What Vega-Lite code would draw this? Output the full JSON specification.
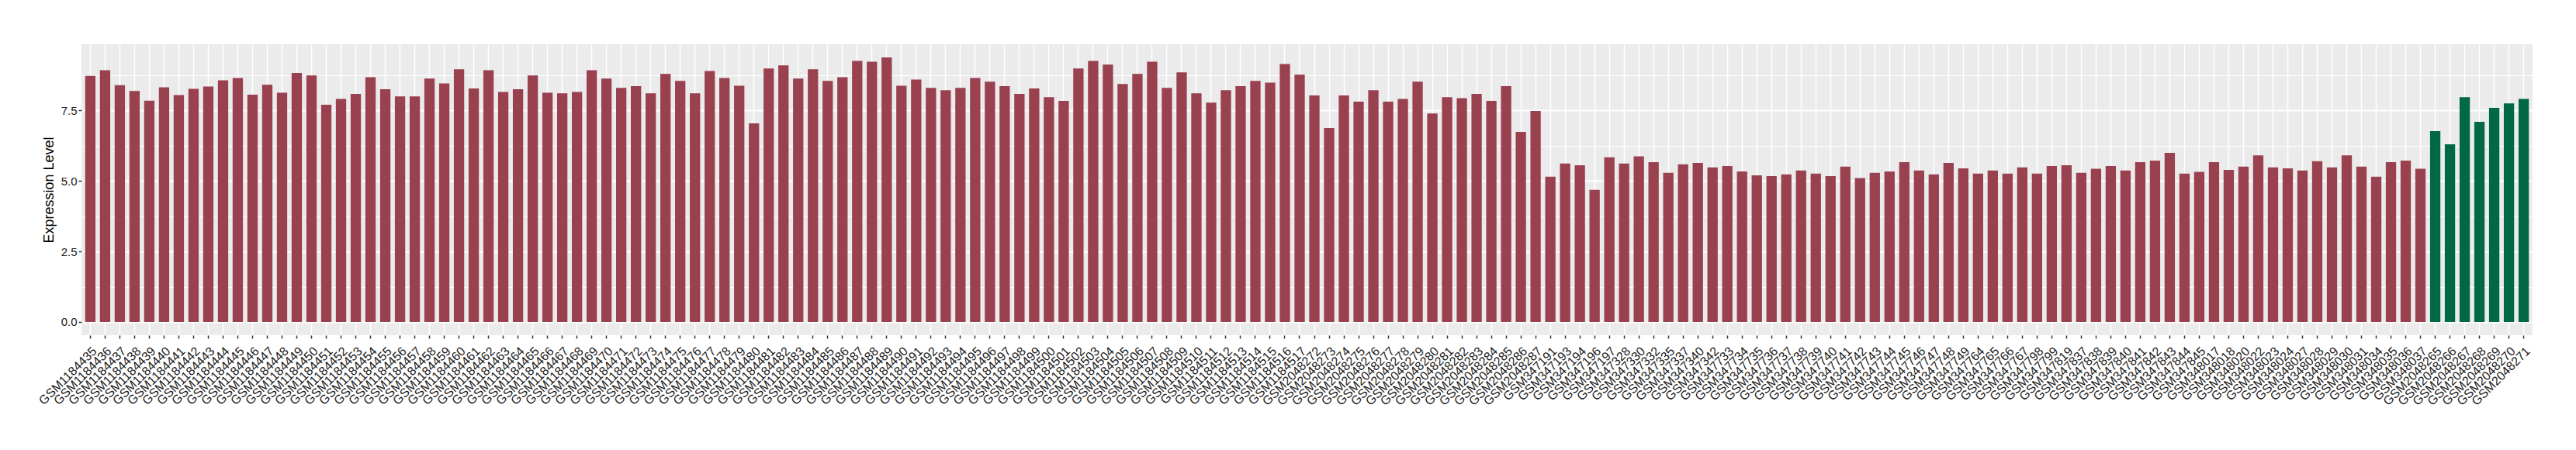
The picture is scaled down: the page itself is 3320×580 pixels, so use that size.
{
  "$schema": "https://vega.github.io/schema/vega-lite/v6.json",
  "autosize": {"type": "none"},
  "width": 3159,
  "height": 375,
  "padding": {"left": 105, "top": 57, "right": 56, "bottom": 148},
  "background": "white",
  "config": {"view": {"fill": "#EBEBEB", "stroke": null}, "font": "Liberation Sans"},
  "data": {"values": [
    {"sample": "GSM1184435", "value": 8.73, "group": "a"},
    {"sample": "GSM1184436", "value": 8.93, "group": "a"},
    {"sample": "GSM1184437", "value": 8.40, "group": "a"},
    {"sample": "GSM1184438", "value": 8.19, "group": "a"},
    {"sample": "GSM1184439", "value": 7.85, "group": "a"},
    {"sample": "GSM1184440", "value": 8.32, "group": "a"},
    {"sample": "GSM1184441", "value": 8.05, "group": "a"},
    {"sample": "GSM1184442", "value": 8.27, "group": "a"},
    {"sample": "GSM1184443", "value": 8.35, "group": "a"},
    {"sample": "GSM1184444", "value": 8.57, "group": "a"},
    {"sample": "GSM1184445", "value": 8.65, "group": "a"},
    {"sample": "GSM1184446", "value": 8.06, "group": "a"},
    {"sample": "GSM1184447", "value": 8.41, "group": "a"},
    {"sample": "GSM1184448", "value": 8.13, "group": "a"},
    {"sample": "GSM1184449", "value": 8.83, "group": "a"},
    {"sample": "GSM1184450", "value": 8.74, "group": "a"},
    {"sample": "GSM1184451", "value": 7.70, "group": "a"},
    {"sample": "GSM1184452", "value": 7.91, "group": "a"},
    {"sample": "GSM1184453", "value": 8.09, "group": "a"},
    {"sample": "GSM1184454", "value": 8.68, "group": "a"},
    {"sample": "GSM1184455", "value": 8.25, "group": "a"},
    {"sample": "GSM1184456", "value": 8.00, "group": "a"},
    {"sample": "GSM1184457", "value": 8.00, "group": "a"},
    {"sample": "GSM1184458", "value": 8.63, "group": "a"},
    {"sample": "GSM1184459", "value": 8.46, "group": "a"},
    {"sample": "GSM1184460", "value": 8.96, "group": "a"},
    {"sample": "GSM1184461", "value": 8.28, "group": "a"},
    {"sample": "GSM1184462", "value": 8.93, "group": "a"},
    {"sample": "GSM1184463", "value": 8.16, "group": "a"},
    {"sample": "GSM1184464", "value": 8.25, "group": "a"},
    {"sample": "GSM1184465", "value": 8.74, "group": "a"},
    {"sample": "GSM1184466", "value": 8.13, "group": "a"},
    {"sample": "GSM1184467", "value": 8.11, "group": "a"},
    {"sample": "GSM1184468", "value": 8.16, "group": "a"},
    {"sample": "GSM1184469", "value": 8.93, "group": "a"},
    {"sample": "GSM1184470", "value": 8.63, "group": "a"},
    {"sample": "GSM1184471", "value": 8.30, "group": "a"},
    {"sample": "GSM1184472", "value": 8.36, "group": "a"},
    {"sample": "GSM1184473", "value": 8.11, "group": "a"},
    {"sample": "GSM1184474", "value": 8.80, "group": "a"},
    {"sample": "GSM1184475", "value": 8.55, "group": "a"},
    {"sample": "GSM1184476", "value": 8.11, "group": "a"},
    {"sample": "GSM1184477", "value": 8.90, "group": "a"},
    {"sample": "GSM1184478", "value": 8.65, "group": "a"},
    {"sample": "GSM1184479", "value": 8.38, "group": "a"},
    {"sample": "GSM1184480", "value": 7.04, "group": "a"},
    {"sample": "GSM1184481", "value": 8.99, "group": "a"},
    {"sample": "GSM1184482", "value": 9.10, "group": "a"},
    {"sample": "GSM1184483", "value": 8.63, "group": "a"},
    {"sample": "GSM1184484", "value": 8.96, "group": "a"},
    {"sample": "GSM1184485", "value": 8.55, "group": "a"},
    {"sample": "GSM1184486", "value": 8.68, "group": "a"},
    {"sample": "GSM1184487", "value": 9.26, "group": "a"},
    {"sample": "GSM1184488", "value": 9.23, "group": "a"},
    {"sample": "GSM1184489", "value": 9.38, "group": "a"},
    {"sample": "GSM1184490", "value": 8.38, "group": "a"},
    {"sample": "GSM1184491", "value": 8.60, "group": "a"},
    {"sample": "GSM1184492", "value": 8.30, "group": "a"},
    {"sample": "GSM1184493", "value": 8.22, "group": "a"},
    {"sample": "GSM1184494", "value": 8.30, "group": "a"},
    {"sample": "GSM1184495", "value": 8.65, "group": "a"},
    {"sample": "GSM1184496", "value": 8.52, "group": "a"},
    {"sample": "GSM1184497", "value": 8.36, "group": "a"},
    {"sample": "GSM1184498", "value": 8.09, "group": "a"},
    {"sample": "GSM1184499", "value": 8.28, "group": "a"},
    {"sample": "GSM1184500", "value": 7.97, "group": "a"},
    {"sample": "GSM1184501", "value": 7.84, "group": "a"},
    {"sample": "GSM1184502", "value": 8.99, "group": "a"},
    {"sample": "GSM1184503", "value": 9.26, "group": "a"},
    {"sample": "GSM1184504", "value": 9.13, "group": "a"},
    {"sample": "GSM1184505", "value": 8.44, "group": "a"},
    {"sample": "GSM1184506", "value": 8.80, "group": "a"},
    {"sample": "GSM1184507", "value": 9.23, "group": "a"},
    {"sample": "GSM1184508", "value": 8.30, "group": "a"},
    {"sample": "GSM1184509", "value": 8.85, "group": "a"},
    {"sample": "GSM1184510", "value": 8.11, "group": "a"},
    {"sample": "GSM1184511", "value": 7.78, "group": "a"},
    {"sample": "GSM1184512", "value": 8.22, "group": "a"},
    {"sample": "GSM1184513", "value": 8.36, "group": "a"},
    {"sample": "GSM1184514", "value": 8.55, "group": "a"},
    {"sample": "GSM1184515", "value": 8.49, "group": "a"},
    {"sample": "GSM1184516", "value": 9.15, "group": "a"},
    {"sample": "GSM1184517", "value": 8.77, "group": "a"},
    {"sample": "GSM2048272", "value": 8.03, "group": "a"},
    {"sample": "GSM2048273", "value": 6.88, "group": "a"},
    {"sample": "GSM2048274", "value": 8.03, "group": "a"},
    {"sample": "GSM2048275", "value": 7.81, "group": "a"},
    {"sample": "GSM2048276", "value": 8.22, "group": "a"},
    {"sample": "GSM2048277", "value": 7.81, "group": "a"},
    {"sample": "GSM2048278", "value": 7.91, "group": "a"},
    {"sample": "GSM2048279", "value": 8.52, "group": "a"},
    {"sample": "GSM2048280", "value": 7.39, "group": "a"},
    {"sample": "GSM2048281", "value": 7.97, "group": "a"},
    {"sample": "GSM2048282", "value": 7.94, "group": "a"},
    {"sample": "GSM2048283", "value": 8.09, "group": "a"},
    {"sample": "GSM2048284", "value": 7.84, "group": "a"},
    {"sample": "GSM2048285", "value": 8.36, "group": "a"},
    {"sample": "GSM2048286", "value": 6.74, "group": "a"},
    {"sample": "GSM2048287", "value": 7.48, "group": "a"},
    {"sample": "GSM347191", "value": 5.15, "group": "a"},
    {"sample": "GSM347193", "value": 5.62, "group": "a"},
    {"sample": "GSM347194", "value": 5.56, "group": "a"},
    {"sample": "GSM347196", "value": 4.68, "group": "a"},
    {"sample": "GSM347197", "value": 5.84, "group": "a"},
    {"sample": "GSM347328", "value": 5.62, "group": "a"},
    {"sample": "GSM347330", "value": 5.87, "group": "a"},
    {"sample": "GSM347332", "value": 5.67, "group": "a"},
    {"sample": "GSM347335", "value": 5.29, "group": "a"},
    {"sample": "GSM347337", "value": 5.59, "group": "a"},
    {"sample": "GSM347340", "value": 5.64, "group": "a"},
    {"sample": "GSM347342", "value": 5.48, "group": "a"},
    {"sample": "GSM347733", "value": 5.53, "group": "a"},
    {"sample": "GSM347734", "value": 5.34, "group": "a"},
    {"sample": "GSM347735", "value": 5.20, "group": "a"},
    {"sample": "GSM347736", "value": 5.17, "group": "a"},
    {"sample": "GSM347737", "value": 5.23, "group": "a"},
    {"sample": "GSM347738", "value": 5.37, "group": "a"},
    {"sample": "GSM347739", "value": 5.26, "group": "a"},
    {"sample": "GSM347740", "value": 5.17, "group": "a"},
    {"sample": "GSM347741", "value": 5.51, "group": "a"},
    {"sample": "GSM347742", "value": 5.10, "group": "a"},
    {"sample": "GSM347743", "value": 5.29, "group": "a"},
    {"sample": "GSM347744", "value": 5.34, "group": "a"},
    {"sample": "GSM347745", "value": 5.67, "group": "a"},
    {"sample": "GSM347746", "value": 5.37, "group": "a"},
    {"sample": "GSM347747", "value": 5.23, "group": "a"},
    {"sample": "GSM347748", "value": 5.64, "group": "a"},
    {"sample": "GSM347749", "value": 5.45, "group": "a"},
    {"sample": "GSM347764", "value": 5.26, "group": "a"},
    {"sample": "GSM347765", "value": 5.37, "group": "a"},
    {"sample": "GSM347766", "value": 5.26, "group": "a"},
    {"sample": "GSM347767", "value": 5.48, "group": "a"},
    {"sample": "GSM347798", "value": 5.26, "group": "a"},
    {"sample": "GSM347799", "value": 5.53, "group": "a"},
    {"sample": "GSM347819", "value": 5.56, "group": "a"},
    {"sample": "GSM347837", "value": 5.29, "group": "a"},
    {"sample": "GSM347838", "value": 5.43, "group": "a"},
    {"sample": "GSM347839", "value": 5.53, "group": "a"},
    {"sample": "GSM347840", "value": 5.37, "group": "a"},
    {"sample": "GSM347841", "value": 5.67, "group": "a"},
    {"sample": "GSM347842", "value": 5.72, "group": "a"},
    {"sample": "GSM347843", "value": 6.00, "group": "a"},
    {"sample": "GSM347844", "value": 5.26, "group": "a"},
    {"sample": "GSM347845", "value": 5.32, "group": "a"},
    {"sample": "GSM348017", "value": 5.67, "group": "a"},
    {"sample": "GSM348018", "value": 5.39, "group": "a"},
    {"sample": "GSM348020", "value": 5.51, "group": "a"},
    {"sample": "GSM348022", "value": 5.91, "group": "a"},
    {"sample": "GSM348023", "value": 5.48, "group": "a"},
    {"sample": "GSM348024", "value": 5.45, "group": "a"},
    {"sample": "GSM348027", "value": 5.37, "group": "a"},
    {"sample": "GSM348028", "value": 5.70, "group": "a"},
    {"sample": "GSM348029", "value": 5.48, "group": "a"},
    {"sample": "GSM348030", "value": 5.91, "group": "a"},
    {"sample": "GSM348031", "value": 5.51, "group": "a"},
    {"sample": "GSM348034", "value": 5.15, "group": "a"},
    {"sample": "GSM348035", "value": 5.67, "group": "a"},
    {"sample": "GSM348036", "value": 5.72, "group": "a"},
    {"sample": "GSM348037", "value": 5.43, "group": "a"},
    {"sample": "GSM2048265", "value": 6.77, "group": "b"},
    {"sample": "GSM2048266", "value": 6.30, "group": "b"},
    {"sample": "GSM2048267", "value": 7.97, "group": "b"},
    {"sample": "GSM2048268", "value": 7.10, "group": "b"},
    {"sample": "GSM2048269", "value": 7.59, "group": "b"},
    {"sample": "GSM2048270", "value": 7.75, "group": "b"},
    {"sample": "GSM2048271", "value": 7.91, "group": "b"}
  ]},
  "mark": {"type": "bar"},
  "encoding": {
    "x": {
      "field": "sample",
      "type": "nominal",
      "sort": null,
      "scale": {"paddingInner": 0.3, "paddingOuter": 0.25},
      "axis": {
        "title": null,
        "labelAngle": -45,
        "labelAlign": "right",
        "labelBaseline": "top",
        "labelFontSize": 16,
        "labelColor": "#1A1A1A",
        "labelPadding": 8,
        "labelOverlap": false,
        "tickColor": "#333333",
        "tickSize": 4,
        "tickWidth": 1.5,
        "domain": false,
        "grid": true,
        "gridColor": "white",
        "gridWidth": 1.5,
        "bandPosition": 0.5
      }
    },
    "y": {
      "field": "value",
      "type": "quantitative",
      "scale": {"domain": [-0.469, 9.849], "nice": false},
      "axis": {
        "title": "Expression Level",
        "values": [0, 1.25, 2.5, 3.75, 5, 6.25, 7.5, 8.75],
        "labelExpr": "datum.value % 2.5 === 0 ? format(datum.value, '.1f') : ''",
        "grid": true,
        "gridColor": "white",
        "gridWidth": {"condition": {"test": "datum.value % 2.5 === 0", "value": 2}, "value": 1},
        "tickOpacity": {"condition": {"test": "datum.value % 2.5 === 0", "value": 1}, "value": 0},
        "domain": false,
        "tickColor": "#333333",
        "tickSize": 4,
        "tickWidth": 1.5,
        "labelFontSize": 15,
        "labelColor": "#1A1A1A",
        "labelPadding": 2,
        "titleFontSize": 18,
        "titleFontWeight": "normal",
        "titleColor": "black",
        "titlePadding": 6
      }
    },
    "color": {
      "field": "group",
      "type": "nominal",
      "scale": {"domain": ["a", "b"], "range": ["#9A4150", "#006747"]},
      "legend": null
    }
  }
}
